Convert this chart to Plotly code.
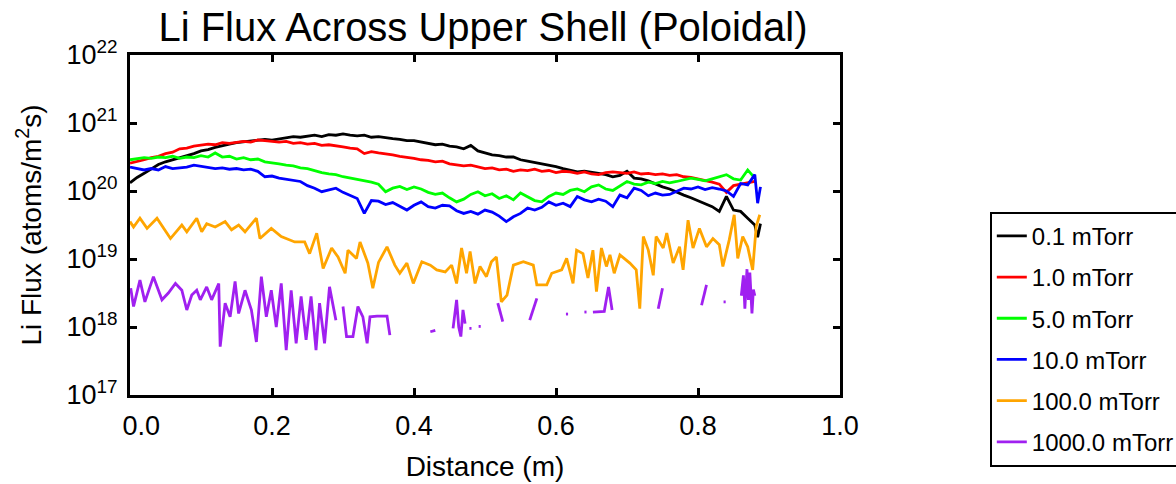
import plotly.graph_objects as go

FONT = "Arial, Liberation Sans, sans-serif"

# ---------------- data ----------------
distance_grid = [round(0.01 * i, 2) for i in range(89)]  # 0.00 .. 0.88 m

flux_0p1_x = distance_grid + [0.884, 0.888]
flux_0p1 = [
    1.32e20, 1.58e20, 1.82e20, 2.14e20, 2.45e20, 2.69e20, 2.88e20, 3.16e20, 3.39e20, 3.55e20,
    3.89e20, 4.07e20, 4.37e20, 4.57e20, 4.90e20, 5.13e20, 5.25e20, 5.50e20, 5.50e20, 5.75e20,
    5.62e20, 5.89e20, 6.03e20, 6.31e20, 6.17e20, 6.46e20, 6.61e20, 6.31e20, 6.76e20, 6.61e20,
    6.92e20, 6.61e20, 6.46e20, 6.61e20, 6.17e20, 6.31e20, 6.03e20, 5.89e20, 5.75e20, 5.50e20,
    5.50e20, 5.25e20, 5.13e20, 4.79e20, 4.90e20, 4.57e20, 4.47e20, 4.17e20, 4.68e20, 3.89e20,
    3.63e20, 3.39e20, 3.31e20, 3.16e20, 3.16e20, 2.88e20, 2.75e20, 2.63e20, 2.51e20, 2.40e20,
    2.29e20, 2.14e20, 2.04e20, 1.91e20, 1.95e20, 1.86e20, 1.82e20, 1.74e20, 1.62e20, 1.70e20,
    1.95e20, 1.55e20, 1.51e20, 1.41e20, 1.26e20, 1.15e20, 1.07e20, 9.55e19, 8.71e19, 7.94e19,
    7.24e19, 6.61e19, 5.89e19, 5.01e19, 8.32e19, 5.25e19, 5.01e19, 3.98e19, 3.16e19,
    2.09e19, 3.31e19,
]

flux_1_x = distance_grid
flux_1 = [
    2.57e20, 2.69e20, 2.88e20, 3.09e20, 3.24e20, 3.55e20, 3.72e20, 4.17e20, 4.27e20, 4.57e20,
    4.68e20, 4.90e20, 4.79e20, 5.13e20, 5.01e20, 5.25e20, 5.37e20, 5.25e20, 5.62e20, 5.50e20,
    5.37e20, 5.25e20, 5.37e20, 5.01e20, 5.13e20, 4.90e20, 5.01e20, 4.68e20, 4.79e20, 4.57e20,
    4.47e20, 4.27e20, 4.17e20, 3.55e20, 3.80e20, 3.63e20, 3.55e20, 3.39e20, 3.24e20, 3.16e20,
    3.02e20, 2.88e20, 2.82e20, 2.69e20, 2.75e20, 2.51e20, 2.45e20, 2.34e20, 2.40e20, 2.24e20,
    2.14e20, 2.19e20, 2.04e20, 2.09e20, 1.95e20, 2.04e20, 2.00e20, 2.09e20, 1.95e20, 2.00e20,
    1.86e20, 1.95e20, 1.91e20, 1.82e20, 1.91e20, 1.78e20, 1.74e20, 1.86e20, 1.91e20, 1.86e20,
    1.82e20, 1.91e20, 1.78e20, 1.82e20, 1.74e20, 1.78e20, 1.70e20, 1.74e20, 1.62e20, 1.58e20,
    1.51e20, 1.41e20, 1.35e20, 1.26e20, 9.55e19, 1.20e20, 1.26e20, 1.32e20, 1.38e20,
]

flux_5_x = distance_grid
flux_5 = [
    2.88e20, 2.95e20, 3.09e20, 3.02e20, 3.16e20, 3.09e20, 3.24e20, 3.02e20, 3.16e20, 3.09e20,
    3.31e20, 3.16e20, 3.63e20, 3.16e20, 3.24e20, 2.95e20, 3.09e20, 2.88e20, 2.95e20, 2.69e20,
    2.63e20, 2.51e20, 2.40e20, 2.34e20, 2.19e20, 2.14e20, 2.00e20, 1.86e20, 1.78e20, 1.74e20,
    1.62e20, 1.55e20, 1.45e20, 1.41e20, 1.35e20, 1.26e20, 9.77e19, 1.10e20, 1.17e20, 1.05e20,
    1.15e20, 1.07e20, 9.55e19, 8.91e19, 9.33e19, 7.94e19, 6.92e19, 7.59e19, 8.91e19, 9.77e19,
    8.51e19, 9.12e19, 7.76e19, 8.51e19, 7.41e19, 9.33e19, 8.32e19, 7.24e19, 6.92e19, 8.32e19,
    9.33e19, 8.91e19, 1.02e20, 1.07e20, 9.77e19, 1.15e20, 1.23e20, 1.07e20, 1.02e20, 1.20e20,
    1.38e20, 1.26e20, 1.23e20, 1.35e20, 1.29e20, 1.38e20, 1.32e20, 1.38e20, 1.45e20, 1.55e20,
    1.48e20, 1.41e20, 1.51e20, 1.62e20, 1.74e20, 1.51e20, 1.45e20, 2.04e20, 1.55e20,
]

flux_10_x = distance_grid + [0.884, 0.888]
flux_10 = [
    2.24e20, 2.14e20, 2.04e20, 2.14e20, 2.04e20, 2.29e20, 2.14e20, 2.19e20, 2.24e20, 2.40e20,
    2.29e20, 2.24e20, 2.14e20, 2.19e20, 2.09e20, 2.14e20, 2.04e20, 2.09e20, 1.95e20, 1.62e20,
    1.66e20, 1.55e20, 1.48e20, 1.45e20, 1.38e20, 1.20e20, 1.10e20, 9.77e19, 1.05e20, 1.10e20,
    9.55e19, 8.71e19, 7.76e19, 4.68e19, 7.24e19, 7.08e19, 6.31e19, 6.76e19, 6.03e19, 5.25e19,
    6.17e19, 6.92e19, 5.89e19, 5.62e19, 6.17e19, 6.03e19, 5.13e19, 4.68e19, 5.01e19, 4.57e19,
    5.25e19, 4.90e19, 4.27e19, 3.55e19, 4.17e19, 4.68e19, 5.62e19, 5.25e19, 5.75e19, 6.92e19,
    6.17e19, 6.61e19, 5.89e19, 8.32e19, 7.41e19, 6.92e19, 7.59e19, 7.08e19, 5.89e19, 8.71e19,
    7.94e19, 1.10e20, 1.02e20, 8.51e19, 9.33e19, 8.71e19, 8.91e19, 9.77e19, 1.10e20, 1.07e20,
    1.15e20, 1.05e20, 1.12e20, 1.07e20, 1.00e20, 8.32e19, 1.29e20, 1.23e20, 1.74e20,
    6.61e19, 1.15e20,
]

flux_100_x = [
    0.000, 0.005, 0.014, 0.024, 0.038, 0.047, 0.057, 0.073, 0.080, 0.094,
    0.101, 0.108, 0.120, 0.134, 0.143, 0.153, 0.162, 0.178, 0.183, 0.199,
    0.213, 0.232, 0.246, 0.253, 0.263, 0.272, 0.284, 0.293, 0.303, 0.307,
    0.319, 0.324, 0.335, 0.342, 0.350, 0.362, 0.373, 0.380, 0.390, 0.399,
    0.411, 0.423, 0.432, 0.444, 0.453, 0.460, 0.467, 0.474, 0.479, 0.486,
    0.493, 0.502, 0.509, 0.516, 0.523, 0.531, 0.540, 0.554, 0.568, 0.573,
    0.587, 0.594, 0.608, 0.615, 0.624, 0.629, 0.638, 0.645, 0.652, 0.657,
    0.664, 0.671, 0.676, 0.682, 0.690, 0.704, 0.713, 0.718, 0.723, 0.730,
    0.737, 0.741, 0.751, 0.756, 0.765, 0.774, 0.779, 0.786, 0.793, 0.802,
    0.812, 0.821, 0.830, 0.835, 0.844, 0.851, 0.856, 0.863, 0.870, 0.877,
    0.882, 0.887,
]
flux_100 = [
    3.55e19, 2.95e19, 3.98e19, 2.82e19, 3.98e19, 2.82e19, 2.00e19, 3.16e19, 2.51e19, 3.98e19,
    2.51e19, 3.31e19, 2.95e19, 3.55e19, 2.69e19, 3.16e19, 2.51e19, 3.98e19, 2.00e19, 2.82e19,
    2.14e19, 1.78e19, 1.78e19, 1.20e19, 2.40e19, 7.24e18, 1.45e19, 1.07e19, 6.17e18, 1.35e19,
    1.02e19, 1.78e19, 8.71e18, 3.72e18, 8.91e18, 1.51e19, 8.13e18, 6.17e18, 8.71e18, 4.37e18,
    9.12e18, 8.13e18, 6.92e18, 6.46e18, 8.13e18, 4.37e18, 1.45e19, 6.17e18, 1.29e19, 4.37e18,
    7.76e18, 5.50e18, 9.12e18, 1.07e19, 2.34e18, 2.95e18, 8.13e18, 9.12e18, 8.13e18, 4.17e18,
    4.17e18, 6.17e18, 6.92e18, 1.02e19, 4.37e18, 1.35e19, 1.20e19, 5.25e18, 1.35e19, 3.31e18,
    1.45e19, 7.76e18, 1.15e19, 6.17e18, 1.15e19, 8.71e18, 6.92e18, 1.86e18, 2.14e19, 1.35e19,
    5.75e18, 2.14e19, 1.45e19, 2.40e19, 8.71e18, 1.51e19, 6.92e18, 3.72e19, 1.45e19, 2.82e19,
    1.51e19, 2.00e19, 1.62e19, 7.76e18, 1.91e19, 4.47e19, 1.02e19, 2.14e19, 1.51e19, 6.92e18,
    3.02e19, 4.47e19,
]

# None marks the gaps (no data) in the 1000 mTorr curve
flux_1000_x = [
    0.001, 0.005, 0.014, 0.021, 0.033, 0.045, 0.054, 0.064, 0.073, 0.080,
    0.087, 0.094, 0.099, 0.108, 0.115, 0.125, 0.127, 0.134, 0.141, 0.148,
    0.153, 0.162, 0.171, 0.178, 0.185, 0.192, 0.199, 0.206, 0.213, 0.220,
    0.227, 0.234, 0.241, 0.248, 0.255, 0.262, 0.267, 0.274, 0.281, 0.290,
    0.295, 0.300, 0.305, 0.314, 0.321, 0.328, 0.334, 0.338, 0.348, 0.362,
    0.366, 0.390, 0.423, 0.430, 0.440, 0.455, 0.460, 0.463, 0.466, 0.469,
    0.472, 0.475, 0.478, 0.481, 0.487, 0.491, 0.494, 0.505, 0.518, 0.525,
    0.545, 0.563, 0.573, 0.590, 0.614, 0.617, 0.630, 0.640, 0.643, 0.648,
    0.652, 0.668, 0.674, 0.679, 0.710, 0.744, 0.750, 0.780, 0.805, 0.812,
    0.825, 0.836, 0.839, 0.850, 0.861, 0.864, 0.866, 0.869, 0.871, 0.873,
    0.876, 0.878, 0.880,
]
flux_1000 = [
    3.72e18, 2.00e18, 4.90e18, 2.34e18, 5.50e18, 2.51e18, 3.16e18, 4.37e18, 3.47e18, 1.78e18,
    2.95e18, 3.47e18, 2.51e18, 3.89e18, 2.51e18, 4.37e18, 5.13e17, 2.24e18, 1.41e18, 4.68e18,
    1.58e18, 3.47e18, 1.78e18, 6.03e17, 5.50e18, 1.41e18, 3.47e18, 1.00e18, 4.37e18, 4.57e17,
    3.47e18, 5.75e17, 2.82e18, 6.46e17, 2.82e18, 4.57e17, 2.24e18, 5.75e17, 3.89e18, 1.26e18,
    None, 2.00e18, 7.24e17, 7.24e17, 2.00e18, 1.41e18, 5.75e17, 1.41e18, 1.45e18, 1.45e18,
    7.59e17, None, 8.51e17, 8.91e17, None, 9.55e17, 2.51e18, 1.00e18, 7.24e17, 1.78e18,
    1.12e18, None, 9.55e17, 9.55e17, None, 1.02e18, 1.02e18, None, 2.24e18, 1.20e18,
    None, 1.26e18, 2.63e18, None, 1.55e18, 1.55e18, None, 1.66e18, 1.66e18, None,
    1.66e18, 1.70e18, 3.89e18, 1.78e18, None, 1.86e18, 3.72e18, None, 2.09e18, 4.17e18,
    None, 2.34e18, 2.34e18, None, 2.88e18, 5.75e18, 1.86e18, 7.08e18, 2.51e18, 6.31e18,
    1.58e18, 3.55e18, 2.88e18,
]

series_names = ["0.1 mTorr", "1.0 mTorr", "5.0 mTorr", "10.0 mTorr", "100.0 mTorr", "1000.0 mTorr"]
series_x = [flux_0p1_x, flux_1_x, flux_5_x, flux_10_x, flux_100_x, flux_1000_x]
series_y = [flux_0p1, flux_1, flux_5, flux_10, flux_100, flux_1000]
series_colors = ["#000000", "#ff0000", "#00ff00", "#0000ff", "#ffa500", "#a020f0"]

x_tick_vals = [0.0, 0.2, 0.4, 0.6, 0.8, 1.0]
x_tick_text = ["\u00a0\u00a0\u00a00.0", "0.2", "0.4", "0.6", "0.8", "1.0"]
y_tick_vals = [1e17, 1e18, 1e19, 1e20, 1e21, 1e22]
y_tick_text = ["10<sup>17</sup>", "10<sup>18</sup>", "10<sup>19</sup>",
               "10<sup>20</sup>", "10<sup>21</sup>", "10<sup>22</sup>"]

# ---------------- figure ----------------
fig = go.Figure()
for i, (name, xs, ys, col) in enumerate(zip(series_names, series_x, series_y, series_colors)):
    fig.add_trace(go.Scatter(
        x=xs, y=ys, mode="lines", name=name, legendgroup=f"g{i}",
        line=dict(color=col, width=2.8), connectgaps=False,
    ))

axis_common = dict(
    showline=True, linewidth=3, linecolor="black", mirror="ticks",
    ticks="inside", ticklen=7, tickwidth=2.5, tickcolor="black",
    showgrid=False, zeroline=False,
)

fig.update_xaxes(
    range=[0, 1.0], tickvals=x_tick_vals, ticktext=x_tick_text,
    tickfont=dict(family=FONT, size=27, color="black"), ticklabelstandoff=5,
    title=dict(text="Distance (m)", font=dict(family=FONT, size=28, color="black"), standoff=16),
    **axis_common,
)
fig.update_yaxes(
    type="log", range=[17, 22], tickvals=y_tick_vals, ticktext=y_tick_text,
    tickfont=dict(family=FONT, size=27, color="black"), ticklabelstandoff=4,
    title=dict(text="Li Flux (atoms/m<sup>2</sup>s)", font=dict(family=FONT, size=28, color="black"), standoff=17),
    **axis_common,
)

fig.update_layout(
    width=1176, height=484,
    margin=dict(l=130, r=336, t=55, b=89, autoexpand=False),
    plot_bgcolor="white", paper_bgcolor="white",
    font=dict(family=FONT, color="black"),
    title=dict(text="Li Flux Across Upper Shell (Poloidal)", x=483 / 1176, xanchor="center",
               y=1 - 27 / 484, yanchor="middle", font=dict(family=FONT, size=40, color="black")),
    legend=dict(x=1.211, y=0.539, xanchor="left", yanchor="top",
                bordercolor="black", borderwidth=2, bgcolor="white",
                font=dict(family=FONT, size=24, color="black"), tracegroupgap=7),
    showlegend=True,
)

fig.write_html("out.html")
